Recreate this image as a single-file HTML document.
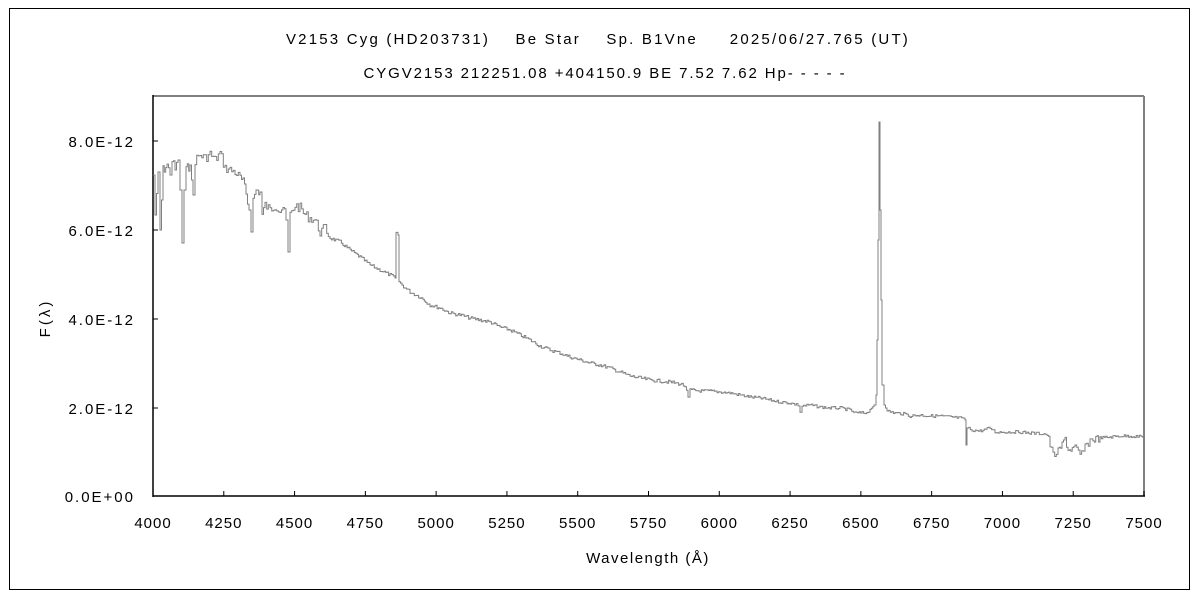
<!DOCTYPE html>
<html><head><meta charset="utf-8"><style>
body{margin:0;background:#fff;width:1200px;height:600px;overflow:hidden}
svg text{font-family:"Liberation Sans","Noto Sans CJK JP",sans-serif;font-size:15px;fill:#000}
</style></head><body>
<svg width="1200" height="600" xmlns="http://www.w3.org/2000/svg">
<rect x="9.5" y="8.5" width="1180" height="581" fill="none" stroke="#000" stroke-width="1"/>
<text x="598" y="44" text-anchor="middle" letter-spacing="2.2" xml:space="preserve">V2153 Cyg (HD203731)    Be Star    Sp. B1Vne     2025/06/27.765 (UT)</text>
<text x="605" y="78" text-anchor="middle" letter-spacing="1.9">CYGV2153 212251.08 +404150.9 BE 7.52 7.62 Hp- - - - -</text>
<line x1="153" y1="96" x2="1144" y2="96" stroke="#808080" stroke-width="2"/>
<line x1="1144" y1="96" x2="1144" y2="496" stroke="#808080" stroke-width="2"/>
<line x1="153" y1="95" x2="153" y2="497" stroke="#000" stroke-width="1.5"/>
<line x1="153" y1="496" x2="1145" y2="496" stroke="#000" stroke-width="1.5"/>
<g id="ticks" stroke="#000" stroke-width="1"></g>
<g letter-spacing="2">
<text x="135" y="147" text-anchor="end">8.0E-12</text>
<text x="135" y="236" text-anchor="end">6.0E-12</text>
<text x="135" y="325" text-anchor="end">4.0E-12</text>
<text x="135" y="414" text-anchor="end">2.0E-12</text>
<text x="135" y="502" text-anchor="end">0.0E+00</text>
</g>
<g id="xl" letter-spacing="1"></g>
<text x="648" y="563" text-anchor="middle" letter-spacing="1.5">Wavelength (Å)</text>
<text transform="translate(50,318) rotate(-90)" text-anchor="middle" letter-spacing="3">F(λ)</text>
<polyline id="sp" fill="none" stroke="#808080" stroke-width="1"/>
</svg>
<script>
var NS="http://www.w3.org/2000/svg";
var t=document.getElementById("ticks"),xl=document.getElementById("xl");
function ln(x1,y1,x2,y2){var l=document.createElementNS(NS,"line");l.setAttribute("x1",x1);l.setAttribute("y1",y1);l.setAttribute("x2",x2);l.setAttribute("y2",y2);t.appendChild(l);}
[141,230,319,408].forEach(function(y){ln(153,y,158,y);});
for(var w=4000;w<=7500;w+=250){var x=153+(w-4000)*991/3500;ln(x,496,x,491);
var s=document.createElementNS(NS,"text");s.setAttribute("x",x);s.setAttribute("y",528);s.setAttribute("text-anchor","middle");s.textContent=w;xl.appendChild(s);}
var P=[[153,175],[155,215],[158,172],[160,230],[163,170],[167,165],[170,175],[172,160],[175,170],[178,160],[180,190],[182,243],[184,190],[186,170],[190,165],[193,195],[195,160],[200,155],[205,158],[210,154],[215,160],[220,153],[225,168],[230,170],[235,172],[240,178],[243,182],[246,195],[249,210],[251,232],[253,200],[256,190],[260,192],[262,215],[265,205],[270,210],[275,205],[280,210],[283,207],[286,220],[288,252],[290,215],[295,205],[300,208],[305,215],[310,218],[315,220],[320,232],[325,228],[330,238],[340,242],[350,250],[360,257],[370,265],[380,270],[390,275],[395,278],[396,234],[398,235],[399,282],[405,288],[410,292],[420,297],[430,305],[440,308],[450,313],[460,315],[470,318],[480,320],[490,322],[500,327],[510,330],[520,335],[530,340],[540,346],[550,350],[560,353],[570,357],[580,360],[590,363],[600,365],[610,368],[620,372],[630,376],[640,378],[650,380],[660,381],[670,382],[680,384],[685,386],[688,398],[690,390],[700,391],[710,391],[720,392],[730,393],[740,395],[750,397],[760,398],[770,400],[780,402],[790,403],[798,405],[800,412],[802,406],[810,405],[820,407],[830,408],[840,408],[850,410],[855,413],[865,413],[870,410],[874,405],[876,395],[877,340],[878,240],[879,122],[880,210],[881,300],[882,385],[884,405],[887,411],[895,413],[905,414],[910,416],[920,415],[930,416],[940,416],[950,417],[960,418],[965,420],[966,445],[967,428],[972,430],[980,431],[990,428],[995,432],[1000,432],[1010,432],[1020,432],[1030,433],[1047,434],[1050,445],[1053,455],[1058,452],[1062,445],[1065,438],[1068,450],[1075,448],[1080,455],[1085,448],[1090,440],[1100,438],[1110,437],[1120,436],[1130,436],[1144,437]];
var seed=7;function r(){seed=(seed*9301+49297)%233280;return seed/233280-0.5;}
var out=[],py=null;
for(var i=0;i<P.length-1;i++){var a=P[i],b=P[i+1];
 var n=Math.max(1,Math.round((b[0]-a[0])/1.5));
 var steep=Math.abs(b[1]-a[1])/(b[0]-a[0])>6;
 for(var k=0;k<n;k++){var x=a[0]+(b[0]-a[0])*k/n,y=a[1]+(b[1]-a[1])*k/n;
  var amp=(x<330?10:(x<700?3.5:(x>1045&&x<1100?8:3)));if(steep||(x>870&&x<888))amp=0;
  y+=r()*amp;
  if(py!==null)out.push(x.toFixed(1)+","+py.toFixed(1));
  out.push(x.toFixed(1)+","+y.toFixed(1));py=y;}}
out.push("1144,437");
document.getElementById("sp").setAttribute("points",out.join(" "));
</script>
</body></html>
